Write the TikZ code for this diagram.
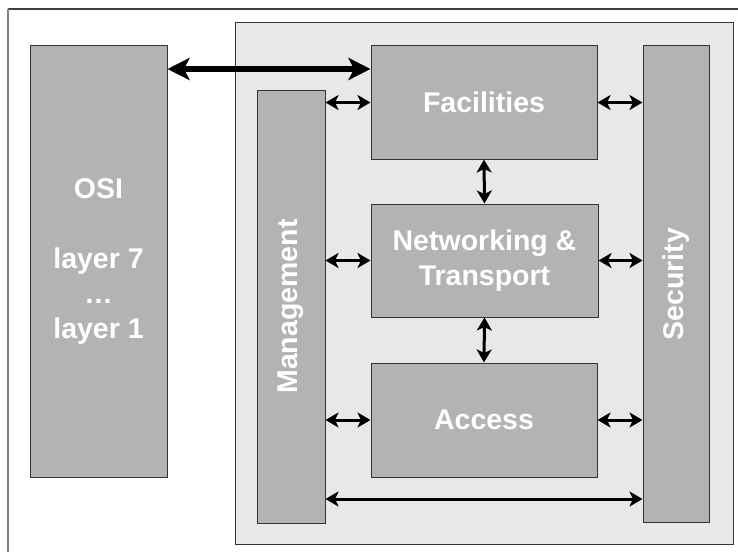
\documentclass[tikz,border=0pt]{standalone}
\usepackage{fontspec}
\setmainfont{Liberation Sans}
\usetikzlibrary{arrows.meta}
\definecolor{boxgray}{RGB}{179,179,179}
\definecolor{panelgray}{RGB}{232,232,232}
\definecolor{edgegray}{RGB}{51,51,51}
\tikzset{
  block/.style={draw=edgegray, line width=1pt, fill=boxgray, inner sep=0pt, text=white,
    font=\fontsize{28.5}{35}\selectfont\bfseries, align=center},
  link/.style={line width=3pt, {Stealth[length=13pt,width=15pt,inset=3.5pt]}-{Stealth[length=13pt,width=15pt,inset=3.5pt]}},
  biglink/.style={line width=6pt, {Stealth[length=22pt,width=22pt,inset=5.5pt]}-{Stealth[length=22pt,width=22pt,inset=5.5pt]}}
}
\begin{document}
\begin{tikzpicture}[x=1pt,y=-1pt]
\useasboundingbox (0,0) rectangle (738,551);
% outer frame (extends beyond the picture)
\draw[color=black!75, line width=1.5pt] (8,9) -- (740,9);
\draw[color=black!50, line width=2pt] (8,9) -- (8,553);
% grey panel
\draw[draw=edgegray, line width=1pt, fill=panelgray] (235,23) rectangle (733,544);
% blocks
\node[block, minimum width=137pt, minimum height=431pt] (osi) at (98.5,261.5) {OSI\\[0pt] \\ layer 7\\ \dots\\ layer 1};
\node[block, minimum width=226pt, minimum height=113pt] (fac) at (484,102.5) {Facilities};
\node[block, minimum width=227pt, minimum height=113pt] (net) at (484.5,260.5) {Networking \&\\ Transport};
\node[block, minimum width=226pt, minimum height=114pt] (acc) at (484,420) {Access};
\node[block, minimum width=68pt, minimum height=433pt] (mgmt) at (291,306.5) {};
\node[block, minimum width=66pt, minimum height=476pt] (sec) at (676,284) {};
\node[text=white, font=\fontsize{28.5}{35}\selectfont\bfseries, rotate=90] (mgmtlabel) at (mgmt.center) {Management};
\node[text=white, font=\fontsize{28.5}{35}\selectfont\bfseries, rotate=90] (seclabel) at (sec.center) {Security};
% helper coordinates
\coordinate (ytop) at (0,69);
\coordinate (ybot) at (0,499);
% connectors
\draw[biglink] (osi.east |- ytop) -- (fac.west |- ytop);
\draw[link] (mgmt.east |- fac.west) -- (fac.west);
\draw[link] (mgmt.east |- net.west) -- (net.west);
\draw[link] (mgmt.east |- acc.west) -- (acc.west);
\draw[link] (fac.east) -- (sec.west |- fac.east);
\draw[link] (net.east) -- (sec.west |- net.east);
\draw[link] (acc.east) -- (sec.west |- acc.east);
\draw[link] (mgmt.east |- ybot) -- (sec.west |- ybot);
\draw[link] (fac.south) -- (net.north);
\draw[link] (net.south) -- (acc.north);
\end{tikzpicture}
\end{document}
